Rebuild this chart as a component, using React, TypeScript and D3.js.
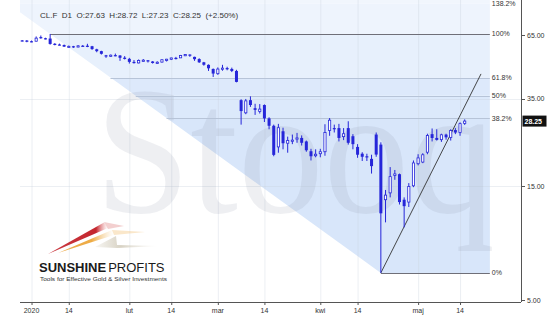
import React from "react";
import * as d3 from "d3";

const W = 550;
const H = 319;

const dates = [
  "2019-12-30","2019-12-31","2020-01-02","2020-01-03","2020-01-06","2020-01-07","2020-01-08","2020-01-09","2020-01-10",
  "2020-01-13","2020-01-14","2020-01-15","2020-01-16","2020-01-17","2020-01-21","2020-01-22","2020-01-23","2020-01-24",
  "2020-01-27","2020-01-28","2020-01-29","2020-01-30","2020-01-31","2020-02-03","2020-02-04","2020-02-05","2020-02-06",
  "2020-02-07","2020-02-10","2020-02-11","2020-02-12","2020-02-13","2020-02-14","2020-02-18","2020-02-19","2020-02-20",
  "2020-02-21","2020-02-24","2020-02-25","2020-02-26","2020-02-27","2020-02-28","2020-03-02","2020-03-03","2020-03-04",
  "2020-03-05","2020-03-06","2020-03-09","2020-03-10","2020-03-11","2020-03-12","2020-03-13","2020-03-16","2020-03-17",
  "2020-03-18","2020-03-19","2020-03-20","2020-03-23","2020-03-24","2020-03-25","2020-03-26","2020-03-27","2020-03-30",
  "2020-03-31","2020-04-01","2020-04-02","2020-04-03","2020-04-06","2020-04-07","2020-04-08","2020-04-09","2020-04-13",
  "2020-04-14","2020-04-15","2020-04-16","2020-04-17","2020-04-20","2020-04-21","2020-04-22","2020-04-23","2020-04-24",
  "2020-04-27","2020-04-28","2020-04-29","2020-04-30","2020-05-01","2020-05-04","2020-05-05","2020-05-06","2020-05-07",
  "2020-05-08","2020-05-11","2020-05-12","2020-05-13","2020-05-14","2020-05-15",
];
const opens = [
  61.7,61.6,61.2,61.2,63.7,63.0,62.8,59.7,59.3,
  59.0,58.2,58.3,58.0,58.6,58.6,58.3,56.6,55.6,
  53.4,53.1,53.5,53.3,52.2,51.6,50.1,49.6,50.8,
  50.9,50.3,49.6,50.0,51.2,51.4,52.1,52.1,53.3,
  53.8,52.6,51.5,49.9,48.7,46.8,44.7,46.8,47.2,
  46.8,45.9,34.6,30.6,34.6,32.0,31.0,33.0,29.0,
  27.0,22.0,25.6,22.8,23.4,23.8,24.0,23.2,21.1,
  20.2,20.6,21.0,25.8,26.4,26.4,24.3,26.4,24.4,
  22.0,20.6,20.1,19.6,24.8,22.5,13.2,14.1,16.7,
  16.9,13.2,12.9,15.1,18.7,19.0,20.9,24.9,24.0,
  23.6,24.8,24.1,25.9,25.3,27.63,
];
const highs = [
  61.9,61.9,61.6,64.1,64.7,63.3,65.65,60.1,59.8,
  59.3,58.7,58.5,58.9,59.0,59.7,58.5,56.9,55.8,
  53.6,53.8,54.3,53.5,53.0,52.1,51.0,51.3,51.5,
  51.0,50.5,50.4,51.3,51.6,52.2,52.6,53.6,54.0,
  53.9,52.7,51.9,50.1,48.9,47.0,47.5,48.7,47.8,
  47.4,46.4,34.9,35.0,35.9,33.4,33.3,33.2,29.3,
  27.3,27.5,26.5,24.3,24.8,25.2,24.6,23.4,21.6,
  21.5,21.6,27.4,29.1,27.3,27.5,26.4,28.2,24.9,
  22.6,20.9,20.6,20.4,25.3,23.0,14.5,18.1,17.6,
  17.0,13.5,15.5,19.3,20.5,20.7,25.0,26.3,26.1,
  25.0,25.0,26.1,26.4,27.9,28.72,
];
const lows = [
  61.1,60.6,60.6,61.1,62.7,62.3,59.2,58.8,58.8,
  57.9,57.6,57.4,57.7,58.2,57.8,56.3,55.0,53.8,
  52.1,52.6,52.9,50.6,51.3,49.3,49.3,49.4,50.3,
  49.8,49.3,49.2,49.8,50.3,51.0,51.3,52.0,53.0,
  52.6,50.6,49.6,48.3,45.9,43.3,44.2,46.0,46.2,
  45.4,41.1,27.3,30.2,32.4,30.0,30.4,28.0,26.1,
  20.1,20.8,21.5,20.8,22.6,22.9,22.3,21.0,19.3,
  19.9,19.9,20.2,24.5,25.3,23.2,23.5,22.5,21.5,
  19.8,19.2,19.2,17.0,20.0,6.5,10.6,13.5,16.0,
  12.6,10.1,12.3,14.9,18.4,18.8,20.5,23.2,23.4,
  23.1,23.6,23.4,24.9,24.5,27.23,
];
const closes = [
  61.68,61.06,61.18,63.05,63.27,62.70,59.61,59.56,59.04,
  58.08,58.23,57.81,58.52,58.54,58.34,56.74,55.59,54.19,
  53.14,53.48,53.33,52.14,51.56,50.11,49.61,50.75,50.95,
  50.32,49.57,49.94,51.17,51.42,52.05,52.05,53.29,53.78,
  53.38,51.43,49.90,48.73,47.09,44.76,46.75,47.18,46.78,
  45.90,41.28,31.13,34.36,33.00,31.50,31.73,29.0,27.0,
  20.37,26.5,22.8,23.4,23.5,24.0,22.9,21.3,20.1,
  20.5,21.0,25.3,28.5,26.1,24.0,25.0,22.9,22.6,
  20.4,20.0,20.05,18.27,20.43,11.57,13.8,16.5,16.94,
  12.9,12.4,15.0,18.84,19.78,20.39,24.56,23.99,23.55,
  24.74,24.14,25.78,25.29,27.56,28.25,
];

const xTickDates = ["2020-01-02","2020-01-14","2020-02-03","2020-02-14","2020-03-02","2020-03-16","2020-04-01","2020-04-14","2020-05-01","2020-05-14"];
const xTickLabels = ["2020","14","lut","14","mar","14","kwi","14","maj","14"];
const yTicks = [65, 35, 15, 5];
const yGrid = [35, 15];

const fibHigh = { date: "2020-01-08", value: 65.65 };
const fibLow = { date: "2020-04-21", value: 6.5 };
const fibLevels = [1.618, 1.382, 1, 0.618, 0.5, 0.382, 0];
const fibLabels = ["", "138.2%", "100%", "61.8%", "50%", "38.2%", "0%"];
const fibBandFills = ["#f1f6fd", "#eef4fd", "#e7f0fc", "#dde9fb", "#dce9fb", "#d8e6fa"];
const fibExtendBars = 5.4;

const trendStart = { date: "2020-04-21", value: 6.5 };
const trendEnd = { barsAfterLast: 3.5, value: 44.6 };

const header = "CL.F  D1  O:27.63  H:28.72  L:27.23  C:28.25  (+2.50%)";
const lastPrice = "28.25";

const BLUE = "#2626d9";

export default function App() {
  const x = d3.scalePoint<string>().domain(dates).range([22.2, 464.7]);
  const y = d3.scaleLog().domain([5, 65]).range([300, 35]);
  const step = x.step();
  const lastX = x(dates[dates.length - 1]) as number;
  const xAfter = (k: number) => lastX + k * step;

  const plotLeft = 20;
  const axisX = 521;
  const axisY = 302;

  const xH = x(fibHigh.date) as number;
  const yH = y(fibHigh.value);
  const xL = x(fibLow.date) as number;
  const yL = y(fibLow.value);
  const diagX = (yy: number) => xH + ((yy - yH) / (yL - yH)) * (xL - xH);
  const fibVal = (r: number) => fibLow.value + r * (fibHigh.value - fibLow.value);
  const fibY = fibLevels.map((r) => y(fibVal(r)));
  const xEnd = xAfter(fibExtendBars);

  const bands = fibBandFills.map((fill, i) => {
    const y1 = fibY[i];
    const y2 = fibY[i + 1];
    const pts = [
      [diagX(y1), y1],
      [xEnd, y1],
      [xEnd, y2],
      [diagX(y2), y2],
    ];
    return { fill, d: "M" + pts.map((p) => p.join(",")).join("L") + "Z" };
  });

  const tx1 = x(trendStart.date) as number;
  const ty1 = y(trendStart.value);
  const tx2 = xAfter(trendEnd.barsAfterLast);
  const ty2 = y(trendEnd.value);

  const bw = 3;

  return (
    <svg
      width={W}
      height={H}
      style={{ position: "absolute", left: 0, top: 0, fontFamily: "Liberation Sans, Arial, sans-serif" }}
    >
      <defs>
        <clipPath id="plot">
          <rect x={plotLeft} y={0} width={axisX - plotLeft} height={axisY} />
        </clipPath>
        <linearGradient id="gRed" x1="0" x2="1" y1="0" y2="0">
          <stop offset="0" stopColor="#c4262e" stopOpacity="0.9" />
          <stop offset="0.8" stopColor="#c4262e" stopOpacity="1" />
          <stop offset="1" stopColor="#e98a8a" stopOpacity="0" />
        </linearGradient>
        <linearGradient id="gOr" x1="0" x2="1" y1="0" y2="0">
          <stop offset="0" stopColor="#e9a23b" stopOpacity="0.9" />
          <stop offset="0.6" stopColor="#eeac45" stopOpacity="1" />
          <stop offset="1" stopColor="#f6d6a0" stopOpacity="0" />
        </linearGradient>
        <linearGradient id="gGr" x1="0" x2="1" y1="0" y2="0">
          <stop offset="0" stopColor="#d8d2c2" stopOpacity="0.2" />
          <stop offset="0.4" stopColor="#d3cdbd" stopOpacity="0.9" />
          <stop offset="1" stopColor="#e8e4da" stopOpacity="0" />
        </linearGradient>
      </defs>
      <rect width={W} height={H} fill="#ffffff" />

      <g clipPath="url(#plot)">
        {bands.map((b, i) => (
          <path key={i} d={b.d} fill={b.fill} />
        ))}
        {xTickDates.map((d, i) => (
          <line key={i} x1={(x(d) as number) + 0.5} x2={(x(d) as number) + 0.5} y1={0} y2={axisY} stroke="#c8d0dc" strokeOpacity={0.35} />
        ))}
        {yGrid.map((v, i) => (
          <line key={i} x1={plotLeft} x2={axisX} y1={Math.round(y(v)) + 0.5} y2={Math.round(y(v)) + 0.5} stroke="#c8d0dc" strokeOpacity={0.35} />
        ))}
        <text
          x={95}
          y={212}
          fontFamily="Liberation Serif, Times New Roman, serif"
          fontSize={182}
          textLength={400}
          lengthAdjust="spacingAndGlyphs"
          fill="#7d8798"
          fillOpacity={0.13}
        >
          Stooq
        </text>
        {fibLevels.map((r, i) => {
          if (r > 1) return null;
          const yy = Math.round(fibY[i]) + 0.5;
          const strong = r === 1 || r === 0;
          return (
            <line
              key={i}
              x1={r === 1 ? xH : diagX(fibY[i])}
              x2={xEnd}
              y1={yy}
              y2={yy}
              stroke={strong ? "#6f6f78" : "#b7c4d8"}
              strokeWidth={1}
            />
          );
        })}
        <line x1={tx1} y1={ty1} x2={tx2} y2={ty2} stroke="#333" strokeWidth={0.9} />
        {dates.map((d, i) => {
          const cx = x(d) as number;
          const o = opens[i];
          const c = closes[i];
          const bull = c >= o;
          const yTop = y(Math.max(o, c));
          const yBot = y(Math.min(o, c));
          const hgt = Math.max(1.2, yBot - yTop);
          return (
            <g key={d}>
              <line x1={cx} x2={cx} y1={y(highs[i])} y2={y(lows[i])} stroke={BLUE} strokeWidth={1} />
              {bull ? (
                <rect x={cx - bw / 2 + 0.4} y={yTop} width={bw - 0.8} height={Math.max(0.8, hgt)} fill="#ffffff" stroke={BLUE} strokeWidth={0.8} />
              ) : (
                <rect x={cx - bw / 2} y={yTop} width={bw} height={hgt} fill={BLUE} />
              )}
            </g>
          );
        })}
      </g>

      {fibLevels.map((r, i) =>
        fibLabels[i] ? (
          <text key={i} x={xEnd + 2} y={Math.max(5.5, fibY[i] + 2.5)} fontSize={7} fill="#333">
            {fibLabels[i]}
          </text>
        ) : null
      )}

      <text x={40} y={17.5} fontSize={8} fill="#333" style={{ whiteSpace: "pre" }}>
        {header}
      </text>

      <line x1={axisX + 0.5} x2={axisX + 0.5} y1={0} y2={axisY} stroke="#555" />
      {yTicks.map((v) => (
        <g key={v}>
          <line x1={axisX} x2={axisX + 4} y1={Math.round(y(v)) + 0.5} y2={Math.round(y(v)) + 0.5} stroke="#555" />
          <text x={axisX + 6} y={y(v) + 2.5} fontSize={7} fill="#333">
            {v.toFixed(2)}
          </text>
        </g>
      ))}
      <rect x={axisX + 1.5} y={y(closes[closes.length - 1]) - 5.5} width={24} height={11} fill="#111" />
      <text x={axisX + 3.5} y={y(closes[closes.length - 1]) + 2.5} fontSize={7} fontWeight="bold" fill="#fff">
        {lastPrice}
      </text>

      <line x1={plotLeft} x2={axisX} y1={axisY + 0.5} y2={axisY + 0.5} stroke="#555" />
      {xTickDates.map((d, i) => (
        <g key={i}>
          <line x1={(x(d) as number) + 0.5} x2={(x(d) as number) + 0.5} y1={axisY} y2={axisY + 3} stroke="#555" />
          <text x={x(d) as number} y={313} fontSize={7} fill="#333" textAnchor="middle">
            {xTickLabels[i]}
          </text>
        </g>
      ))}

      <g>
        <path d="M48,254 L104,222.5 L108,228 Z" fill="url(#gRed)" />
        <path d="M104,222 L124,226 L108,229 Z" fill="#e7a0a0" opacity={0.5} />
        <path d="M58,253 L112,230 L114,235 Z" fill="url(#gOr)" />
        <path d="M112,230 L145,232 L114,235 Z" fill="#f3c989" opacity={0.45} />
        <path d="M95,247 L116,236 L117,245 L160,246 L117,248 Z" fill="url(#gGr)" />
        <text x={39} y={272} fontSize={13} fill="#1a1a1a">
          <tspan fontWeight="bold">SUNSHINE</tspan>
          <tspan dx={2}>PROFITS</tspan>
        </text>
        <text x={40} y={281} fontSize={5.3} fill="#333" textLength={127} lengthAdjust="spacingAndGlyphs">
          Tools for Effective Gold &amp; Silver Investments
        </text>
      </g>
    </svg>
  );
}
